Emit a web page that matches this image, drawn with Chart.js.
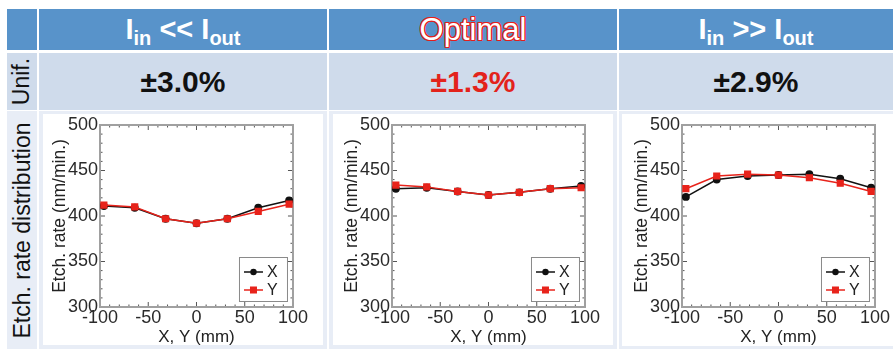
<!DOCTYPE html>
<html>
<head>
<meta charset="utf-8">
<script src="https://cdn.jsdelivr.net/npm/chart.js@4.4.1/dist/chart.umd.min.js"></script>
<style>
  html, body { margin: 0; padding: 0; background: #fff; }
  body { width: 893px; height: 349px; position: relative; overflow: hidden; font-family: "Liberation Sans", Arial, sans-serif; }
  .cell { position: absolute; display: flex; align-items: center; justify-content: center; }
  .head { background: #5893ca; color: #fff; font-weight: bold; font-size: 29px; }
  .head span { white-space: pre; }
  .head sub { font-size: 20px; vertical-align: -6px; line-height: 0; }
  .unif { background: #cfdbeb; font-weight: bold; font-size: 30px; color: #111; }
  .dist { background: #e8edf6; }
  .side { font-size: 23px; color: #111; font-weight: normal; }
  .side span { transform: rotate(-90deg); white-space: nowrap; display: block; }
  .panel { position: absolute; background: #fff; }
  .optimal { font-weight: normal; font-size: 31px; color: #fff;
    text-shadow: 1px 0 #e21f1c, -1px 0 #e21f1c, 0 1px #e21f1c, 0 -1px #e21f1c,
                 1px 1px #e21f1c, -1px 1px #e21f1c, 1px -1px #e21f1c, -1px -1px #e21f1c; }
  canvas { position: absolute; }
</style>
</head>
<body>
<div class="cell head" style="left:7px;top:9px;width:30px;height:41px;"></div>
<div class="cell head" style="left:39px;top:9px;width:288px;height:41px;" id="h0"></div>
<div class="cell head optimal" style="left:329px;top:9px;width:288px;height:41px;" id="h1"></div>
<div class="cell head" style="left:619px;top:9px;width:274px;height:41px;" id="h2"></div>

<div class="cell unif side" style="left:7px;top:53px;width:30px;height:57px;"><span>Unif.</span></div>
<div class="cell unif" style="left:39px;top:53px;width:288px;height:57px;" id="u0"></div>
<div class="cell unif" style="left:329px;top:53px;width:288px;height:57px;color:#e3231b;" id="u1"></div>
<div class="cell unif" style="left:619px;top:53px;width:274px;height:57px;" id="u2"></div>

<div class="cell dist side" style="left:7px;top:111px;width:30px;height:238px;"><span>Etch. rate distribution</span></div>
<div class="cell dist" style="left:39px;top:111px;width:288px;height:238px;"></div>
<div class="cell dist" style="left:329px;top:111px;width:288px;height:238px;"></div>
<div class="cell dist" style="left:619px;top:111px;width:274px;height:238px;"></div>
<div class="panel" style="left:43px;top:114px;width:280px;height:231px;"></div>
<div class="panel" style="left:333px;top:114px;width:280px;height:231px;"></div>
<div class="panel" style="left:622px;top:114px;width:271px;height:232px;"></div>

<canvas id="c0" width="267" height="233" style="left:43px;top:114px;"></canvas>
<canvas id="c1" width="267" height="233" style="left:335px;top:114px;"></canvas>
<canvas id="c2" width="267" height="233" style="left:625px;top:114px;"></canvas>

<script>
// column headings and uniformity
const titles = ['I<sub>in</sub> &lt;&lt; I<sub>out</sub>', 'Optimal', 'I<sub>in</sub> &gt;&gt; I<sub>out</sub>'];
const uniformity = ['±3.0%', '±1.3%', '±2.9%'];

// measurement positions (mm)
const positions = [-96, -64, -32, 0, 32, 64, 96];

// etch rate (nm/min.)
const lowX = [411, 409, 397, 392, 397, 409, 417];
const lowY = [412, 410, 397, 392, 397, 405, 413];
const optX = [430, 431, 427, 423, 426, 430, 433];
const optY = [434, 432, 427, 423, 426, 430, 431];
const highX = [421, 440, 444, 445, 446, 441, 431];
const highY = [430, 444, 446, 445, 442, 436, 427];

const xTicks = [-100, -50, 0, 50, 100];
const yTicks = [300, 350, 400, 450, 500];

const FONT = '"Liberation Sans", Arial, sans-serif';

titles.forEach((t, i) => { document.getElementById('h' + i).innerHTML = '<span>' + t + '</span>'; });
uniformity.forEach((t, i) => { document.getElementById('u' + i).textContent = t; });

// plot frame with inward ticks on all sides
const framePlugin = {
    id: 'frame',
    beforeDatasetsDraw(chart) {
        const { ctx, chartArea: a, scales } = chart;
        ctx.save();
        ctx.strokeStyle = '#555';
        ctx.lineWidth = 1;
        for (let v = -100; v <= 100; v += 10) {
            const px = scales.x.getPixelForValue(v);
            const len = v % 50 === 0 ? 5 : 2.5;
            ctx.beginPath();
            ctx.moveTo(px, a.bottom); ctx.lineTo(px, a.bottom - len);
            ctx.moveTo(px, a.top); ctx.lineTo(px, a.top + len);
            ctx.stroke();
        }
        for (let v = 300; v <= 500; v += 10) {
            const py = scales.y.getPixelForValue(v);
            const len = v % 50 === 0 ? 5 : 2.5;
            ctx.beginPath();
            ctx.moveTo(a.left, py); ctx.lineTo(a.left + len, py);
            ctx.moveTo(a.right, py); ctx.lineTo(a.right - len, py);
            ctx.stroke();
        }
        ctx.strokeStyle = '#a0a0a0';
        ctx.lineWidth = 2;
        ctx.strokeRect(a.left, a.top, a.right - a.left, a.bottom - a.top);
        ctx.restore();
    }
};

// legend box inside the plot, bottom right
const boxLegend = {
    id: 'boxLegend',
    afterDatasetsDraw(chart) {
        const { ctx, chartArea: a } = chart;
        const w = 48, h = 44;
        const left = a.right - 6 - w, top = a.bottom - 6 - h;
        ctx.save();
        ctx.fillStyle = '#fff';
        ctx.fillRect(left, top, w, h);
        ctx.strokeStyle = '#8a8a8a';
        ctx.lineWidth = 1;
        ctx.strokeRect(left + 0.5, top + 0.5, w, h);
        chart.data.datasets.forEach((ds, i) => {
            const y = top + 15 + i * 18;
            ctx.strokeStyle = ds.borderColor;
            ctx.lineWidth = 1.5;
            ctx.beginPath();
            ctx.moveTo(left + 5, y); ctx.lineTo(left + 24, y);
            ctx.stroke();
            ctx.fillStyle = ds.borderColor;
            if (ds.pointStyle === 'rect') {
                ctx.fillRect(left + 14.5 - 3.5, y - 3.5, 7, 7);
            } else {
                ctx.beginPath();
                ctx.arc(left + 14.5, y, 3.2, 0, Math.PI * 2);
                ctx.fill();
            }
            ctx.fillStyle = '#222';
            ctx.font = '16px ' + FONT;
            ctx.textBaseline = 'middle';
            ctx.fillText(ds.label, left + 28, y + 1);
        });
        ctx.restore();
    }
};

function makeChart(id, xs, ys) {
    const ctx = document.getElementById(id).getContext('2d');
    return new Chart(ctx, {
        type: 'line',
        data: {
            datasets: [{
                label: 'X',
                data: positions.map((p, i) => ({ x: p, y: xs[i] })),
                borderColor: '#111',
                backgroundColor: '#111',
                borderWidth: 1.5,
                pointStyle: 'circle',
                pointRadius: 3.2,
                order: 1
            }, {
                label: 'Y',
                data: positions.map((p, i) => ({ x: p, y: ys[i] })),
                borderColor: '#e8231b',
                backgroundColor: '#e8231b',
                borderWidth: 1.5,
                pointStyle: 'rect',
                pointRadius: 4,
                order: 0
            }]
        },
        options: {
            responsive: false,
            animation: false,
            layout: { padding: { top: 11, right: 14, left: 0, bottom: 0 } },
            plugins: { legend: { display: false }, tooltip: { enabled: false } },
            scales: {
                x: {
                    type: 'linear',
                    min: -100, max: 100,
                    afterBuildTicks: s => { s.ticks = xTicks.map(v => ({ value: v })); },
                    afterFit: s => { s.height = 40; },
                    grid: { display: false, drawTicks: false },
                    border: { display: false },
                    ticks: { color: '#2a2a2a', padding: 2, maxRotation: 0, autoSkip: false,
                             font: { family: FONT, size: 18, lineHeight: 1 } },
                    title: { display: true, text: 'X, Y (mm)', color: '#222',
                             padding: { top: 0, bottom: 1 }, font: { family: FONT, size: 17, lineHeight: 1 } }
                },
                y: {
                    min: 300, max: 500,
                    afterBuildTicks: s => { s.ticks = yTicks.map(v => ({ value: v })); },
                    afterFit: s => { s.width = 57; },
                    grid: { display: false, drawTicks: false },
                    border: { display: false },
                    ticks: { color: '#2a2a2a', padding: 2, font: { family: FONT, size: 18, lineHeight: 1 } },
                    title: { display: true, text: 'Etch. rate (nm/min.)', color: '#222',
                             padding: { top: 8, bottom: 0 }, font: { family: FONT, size: 17.5, lineHeight: 1 } }
                }
            }
        },
        plugins: [framePlugin, boxLegend]
    });
}

makeChart('c0', lowX, lowY);
makeChart('c1', optX, optY);
makeChart('c2', highX, highY);
</script>
</body>
</html>
